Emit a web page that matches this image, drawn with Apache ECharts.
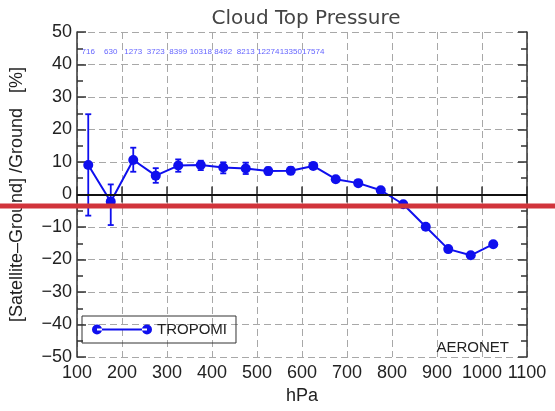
<!DOCTYPE html>
<html>
<head>
<meta charset="utf-8">
<script src="https://cdn.jsdelivr.net/npm/echarts@6/dist/echarts.min.js"></script>
<style>
  html, body { margin: 0; padding: 0; background: #fff; }
  #chart { width: 555px; height: 411px; }
</style>
</head>
<body>
<div id="chart"></div>
<script>
// Cloud top pressure bins (hPa) and mean relative difference (%)
const pressure = [125, 175, 225, 275, 325, 375, 425, 475, 525, 575, 625, 675, 725, 775, 825, 875, 925, 975, 1025];
const meanDiff = [9.1, -2.2, 10.6, 5.8, 8.9, 9.1, 8.3, 8.0, 7.2, 7.3, 8.8, 4.7, 3.5, 1.3, -3.0, -9.9, -16.8, -18.7, -15.3];
// Error bar bounds for the first bins
const errLow  = [-6.5, -9.4, 7.0, 3.6, 7.0, 7.5, 6.5, 6.3, 6.1, 6.2, 7.9];
const errHigh = [24.7, 3.1, 14.4, 8.1, 10.8, 10.4, 9.9, 9.8, 8.3, 8.4, 9.7];
// Number of collocations per bin
const sampleCounts = ['716', '630', '1273', '3723', '8399', '10318', '8492', '8213', '12274', '13350', '17574'];
const countLevel = 44;

const xTicks = { min: 100, max: 1100, interval: 100 };
const yTicks = { min: -50, max: 50, interval: 10 };

const FONT = 'Liberation Sans';
const BLUE = '#0f0fee';

const errData = errLow.map((lo, i) => [pressure[i], lo, errHigh[i]]);
const countData = sampleCounts.map((c, i) => [pressure[i], countLevel, c]);

const chart = echarts.init(document.getElementById('chart'), null, { renderer: 'canvas' });

const frameLine = { show: true, lineStyle: { color: '#333', width: 1.5 } };
const gridLine = { show: true, lineStyle: { color: '#a8a8a8', width: 1, type: [7, 4] } };

chart.setOption({
  animation: false,
  backgroundColor: '#fff',
  title: [
    {
      text: 'Cloud Top Pressure',
      left: 301, top: 4, textAlign: 'center',
      textStyle: { fontFamily: 'DejaVu Sans', fontSize: 20, fontWeight: 'normal', color: '#444' }
    },
    {
      text: 'AERONET',
      right: 41, top: 335,
      textStyle: { fontFamily: FONT, fontSize: 15, fontWeight: 'normal', color: '#222' }
    }
  ],
  legend: {
    data: ['TROPOMI'],
    left: 82, top: 316,
    padding: [6, 9, 6, 10],
    itemWidth: 60, itemHeight: 10,
    borderColor: '#333', borderWidth: 1, borderRadius: 0,
    icon: 'path://M0,5a5,5 0 1,0 10,0a5,5 0 1,0 -10,0ZM5,4H55V6H5ZM50,5a5,5 0 1,0 10,0a5,5 0 1,0 -10,0Z',
    itemStyle: { borderWidth: 0 },
    textStyle: { fontFamily: FONT, fontSize: 15, color: '#222' }
  },
  grid: { left: 74, right: 28, top: 32, bottom: 54, containLabel: false },
  xAxis: [
    {
      type: 'value', min: xTicks.min, max: xTicks.max, interval: xTicks.interval,
      name: 'hPa', nameLocation: 'middle', nameGap: 29,
      nameTextStyle: { fontFamily: FONT, fontSize: 18, color: '#222' },
      axisLine: frameLine,
      axisTick: { show: true, inside: true, length: 8, lineStyle: { color: '#333', width: 1.5 } },
      axisLabel: {
        fontFamily: FONT, fontSize: 18, color: '#222', margin: 7, showMaxLabel: true,
        formatter: v => String(v)
      },
      splitLine: gridLine
    },
    {
      type: 'value', position: 'top', min: xTicks.min, max: xTicks.max, interval: xTicks.interval,
      axisLine: frameLine,
      axisTick: { show: true, inside: true, length: 8, lineStyle: { color: '#333', width: 1.5 } },
      axisLabel: { show: false },
      splitLine: { show: false }
    }
  ],
  yAxis: [
    {
      type: 'value', min: yTicks.min, max: yTicks.max, interval: yTicks.interval,
      name: '[Satellite\u2013Ground] /Ground   [%]', nameLocation: 'middle', nameGap: 51, nameRotate: 90,
      nameTextStyle: { fontFamily: FONT, fontSize: 18, color: '#222' },
      axisLine: frameLine,
      axisTick: { show: true, inside: true, length: 9, lineStyle: { color: '#333', width: 1.5 } },
      minorTick: { show: true, splitNumber: 2, length: 6, lineStyle: { color: '#333', width: 1.5 } },
      axisLabel: {
        fontFamily: FONT, fontSize: 18, color: '#222', margin: 5,
        formatter: v => (v < 0 ? '\u2212' + Math.abs(v) : String(v))
      },
      splitLine: gridLine
    },
    {
      type: 'value', position: 'right', min: yTicks.min, max: yTicks.max, interval: yTicks.interval,
      axisLine: frameLine,
      axisTick: { show: true, inside: true, length: 9, lineStyle: { color: '#333', width: 1.5 } },
      minorTick: { show: true, splitNumber: 2, length: 6, lineStyle: { color: '#333', width: 1.5 } },
      axisLabel: { show: false },
      splitLine: { show: false }
    }
  ],
  series: [
    {
      name: 'TROPOMI',
      type: 'line',
      xAxisIndex: 0, yAxisIndex: 0,
      data: pressure.map((p, i) => [p, meanDiff[i]]),
      symbol: 'circle', symbolSize: 10,
      itemStyle: { color: BLUE },
      lineStyle: { color: BLUE, width: 2 },
      z: 4,
      markLine: {
        silent: true, symbol: 'none',
        label: { show: false },
        lineStyle: { color: '#111', width: 2, type: 'solid' },
        data: [{ yAxis: 0 }]
      }
    },
    {
      name: 'error',
      type: 'custom',
      xAxisIndex: 0, yAxisIndex: 0,
      data: errData,
      z: 3,
      renderItem: (params, api) => {
        const x = api.value(0);
        const top = api.coord([x, api.value(2)]);
        const bot = api.coord([x, api.value(1)]);
        const cap = 3;
        const style = { stroke: BLUE, lineWidth: 1.8 };
        return {
          type: 'group',
          children: [
            { type: 'line', shape: { x1: top[0], y1: top[1], x2: bot[0], y2: bot[1] }, style },
            { type: 'line', shape: { x1: top[0] - cap, y1: top[1], x2: top[0] + cap, y2: top[1] }, style },
            { type: 'line', shape: { x1: bot[0] - cap, y1: bot[1], x2: bot[0] + cap, y2: bot[1] }, style }
          ]
        };
      }
    },
    {
      name: 'counts',
      type: 'scatter',
      xAxisIndex: 0, yAxisIndex: 0,
      data: countData,
      symbolSize: 0,
      silent: true,
      label: {
        show: true, position: 'inside',
        formatter: p => p.value[2],
        fontFamily: FONT, fontSize: 8, color: '#3a3aff'
      }
    }
  ],
  graphic: [
    {
      type: 'rect', z: 100, silent: true,
      shape: { x: 0, y: 203.5, width: 555, height: 5 },
      style: { fill: '#d1343b' }
    }
  ]
});
</script>
</body>
</html>
